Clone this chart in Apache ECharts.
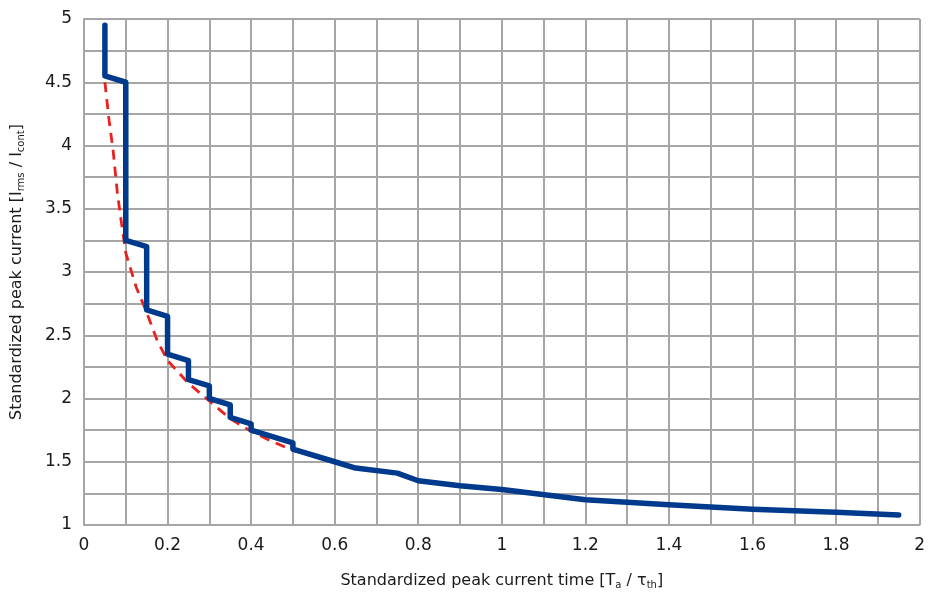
<!DOCTYPE html>
<html><head><meta charset="utf-8">
<script src="https://cdn.jsdelivr.net/npm/echarts@6/dist/echarts.min.js"></script>
<style>html,body{margin:0;padding:0;background:#fff}#c{width:928px;height:595px}</style>
</head><body><div id="c"></div>
<script>
var stepX = [0.05,0.05,0.1,0.1,0.15,0.15,0.2,0.2,0.25,0.25,0.3,0.3,0.35,0.35,0.4,0.4,0.5,0.5,0.6,0.65,0.75,0.8,0.9,1.0,1.2,1.4,1.6,1.8,1.95];
var stepY = [4.95,4.55,4.5,3.25,3.2,2.7,2.65,2.35,2.3,2.15,2.1,2.0,1.95,1.85,1.8,1.75,1.65,1.6,1.5,1.45,1.41,1.35,1.31,1.28,1.2,1.16,1.125,1.1,1.08];
var curveX = [0.05,0.06,0.07,0.08,0.09,0.1,0.125,0.15,0.175,0.2,0.25,0.3,0.35,0.4,0.45,0.5,0.53];
var curveY = [4.5,4.2,3.95,3.62,3.38,3.15,2.88,2.68,2.46,2.3,2.12,1.98,1.84,1.74,1.66,1.59,1.56];
var xTicks = {min:0, max:2, interval:0.2};
var yTicks = {min:1, max:5, interval:0.5};

function pairs(xs, ys){ return xs.map(function(x,i){ return [x, ys[i]]; }); }
var gridColor = '#a6a6a6';
var chart = echarts.init(document.getElementById('c'), null, {renderer:'canvas'});
var font = 'DejaVu Sans, Liberation Sans, Arial, sans-serif';
var rich = {
  t:{fontSize:16, fontFamily:font, color:'#1a1a1a'},
  s:{fontSize:10, fontFamily:font, color:'#1a1a1a', verticalAlign:'bottom', padding:[8,0,0,0]}
};
chart.setOption({
  animation:false,
  grid:{left:84, right:4, top:19, bottom:68},
  xAxis:{
    type:'value', min:xTicks.min, max:xTicks.max, interval:xTicks.interval,
    axisLine:{show:true, lineStyle:{color:gridColor, width:2}},
    axisTick:{show:false},
    splitLine:{show:true, lineStyle:{color:gridColor, width:2}},
    minorTick:{show:false, splitNumber:2},
    minorSplitLine:{show:true, lineStyle:{color:gridColor, width:2}},
    axisLabel:{color:'#1a1a1a', fontSize:17, fontFamily:font, margin:12,
      formatter:function(v){ return String(Math.round(v*10)/10); }},
    name:'{t|Standardized peak current time [T}{s|a}{t| / τ}{s|th}{t|]}',
    nameLocation:'middle', nameGap:47,
    nameTextStyle:{rich:rich}
  },
  yAxis:{
    type:'value', min:yTicks.min, max:yTicks.max, interval:yTicks.interval,
    axisLine:{show:true, lineStyle:{color:gridColor, width:2}},
    axisTick:{show:false},
    splitLine:{show:true, lineStyle:{color:gridColor, width:2}},
    minorTick:{show:false, splitNumber:2},
    minorSplitLine:{show:true, lineStyle:{color:gridColor, width:2}},
    axisLabel:{color:'#1a1a1a', fontSize:17, fontFamily:font, margin:12,
      formatter:function(v){ return String(Math.round(v*10)/10); }},
    name:'{t|Standardized peak current [I}{s|rms}{t| / I}{s|cont}{t|]}',
    nameLocation:'middle', nameGap:58, nameRotate:90,
    nameTextStyle:{rich:rich}
  },
  series:[
    {type:'line', data:pairs(curveX, curveY), showSymbol:false, symbol:'none', z:2,
     lineStyle:{color:'#e8231f', width:2.8, type:[10,7]}},
    {type:'line', data:pairs(stepX, stepY), showSymbol:false, symbol:'none', z:3,
     lineStyle:{color:'#003a8c', width:5.5, join:'round', cap:'round'}}
  ]
});
</script></body></html>
